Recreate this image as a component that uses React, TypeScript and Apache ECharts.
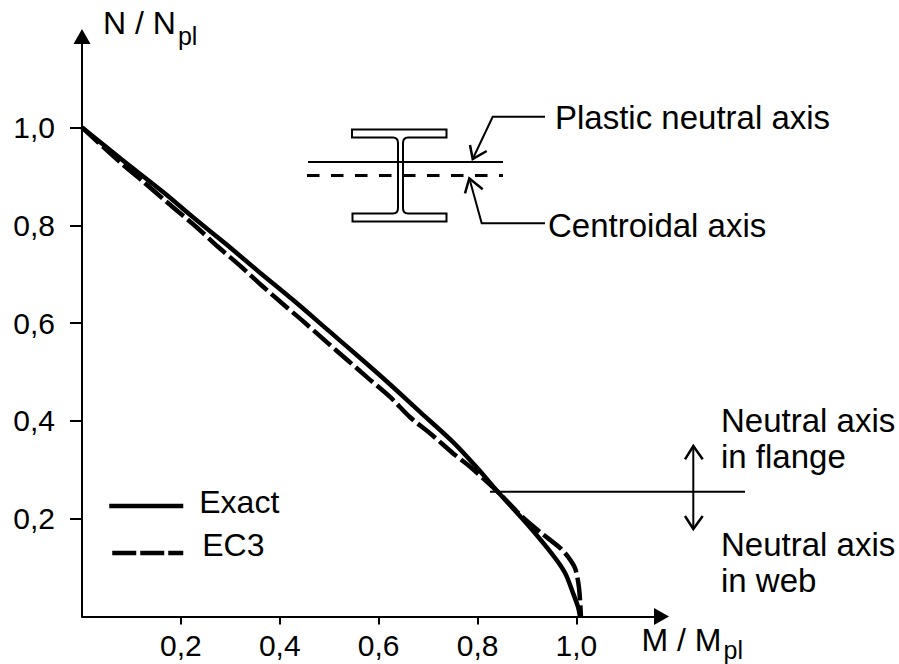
import React, { useEffect, useRef } from "react";
import * as echarts from "echarts";

const tickValues = [0.2, 0.4, 0.6, 0.8, 1.0];
const exactM = [0, 0.081, 0.164, 0.224, 0.293, 0.36, 0.427, 0.497, 0.562, 0.617, 0.684, 0.75, 0.799, 0.841, 0.902, 0.952, 0.977, 0.993, 1.003, 1.007];
const exactN = [1, 0.934, 0.868, 0.817, 0.76, 0.703, 0.647, 0.586, 0.529, 0.48, 0.418, 0.357, 0.304, 0.255, 0.187, 0.126, 0.089, 0.048, 0.02, 0.001];
const ec3M = [0, 0.077, 0.123, 0.172, 0.233, 0.275, 0.32, 0.36, 0.404, 0.447, 0.495, 0.536, 0.578, 0.623, 0.663, 0.708, 0.75, 0.785, 0.841, 0.886, 0.926, 0.967, 0.983, 0.997, 1.005, 1.009];
const ec3N = [1, 0.929, 0.89, 0.847, 0.795, 0.756, 0.717, 0.68, 0.641, 0.604, 0.561, 0.525, 0.488, 0.449, 0.408, 0.371, 0.334, 0.306, 0.255, 0.208, 0.173, 0.14, 0.122, 0.099, 0.06, 0.001];

const FONT = "'Liberation Sans', Arial, sans-serif";
const INK = "#000";
const zip = (a: number[], b: number[]) => a.map((v, i) => [v, b[i]]);
const fmt = (v: number) => v.toFixed(1).replace(".", ",");

const BEAM =
  "M352,129.5 H446.5 V137.5 H408 Q403,137.5 403,143 V208 Q403,213.5 408,213.5 H446.5 V221.5 H352.5 V213.5 H393 Q398,213.5 398,208 V143 Q398,137.5 393,137.5 H352 Z";

const line = (points: number[][], lineWidth = 2, lineDash?: number[]) => ({
  type: "polyline",
  silent: true,
  shape: { points },
  style: { stroke: INK, lineWidth, fill: "none", lineDash },
});
const label = (text: string, x: number, y: number) => ({
  type: "text",
  silent: true,
  x,
  y,
  style: { text, x: 0, y: 0, fill: INK, font: `33px ${FONT}`, verticalAlign: "middle" },
});

export default function App() {
  const ref = useRef<HTMLDivElement>(null);
  useEffect(() => {
    document.body.style.margin = "0";
    try {
      echarts.graphic.registerShape("ibeam", echarts.graphic.extendPath(BEAM, {}));
    } catch (e) {}
    const chart = echarts.init(ref.current!, null, { renderer: "svg" });
    const axisBase = {
      type: "value",
      min: 0,
      splitLine: { show: false },
      axisLine: {
        show: true,
        onZero: false,
        symbol: ["none", "triangle"],
        symbolSize: [17, 15],
        lineStyle: { color: INK, width: 2 },
      },
      axisTick: { show: true, customValues: tickValues, lineStyle: { color: INK, width: 2 } },
    };
    const t = { fontFamily: FONT, fontSize: 32, color: INK };
    const sub = { fontFamily: FONT, fontSize: 25, color: INK };
    const legendBase = {
      itemHeight: 14,
      padding: 0,
      selectedMode: false,
      itemStyle: { opacity: 0 },
    };
    const legendText = (pad: number[]) => ({
      rich: { a: { fontFamily: FONT, fontSize: 32, color: INK, padding: pad } },
    });
    chart.setOption({
      animation: false,
      backgroundColor: "#fff",
      grid: { left: 82, top: 36.5, width: 579.5, height: 580, outerBoundsMode: "none" },
      legend: [
        {
          ...legendBase,
          data: ["Exact"],
          left: 107,
          top: 486,
          itemWidth: 74,
          lineStyle: { width: 4.5 },
          formatter: "{a|{name}}",
          textStyle: legendText([0, 0, 8, 11]),
        },
        {
          ...legendBase,
          data: ["EC3"],
          left: 110,
          top: 529,
          itemWidth: 71,
          lineStyle: { width: 4.5, type: [24, 4] },
          formatter: "{a|{name}}",
          textStyle: legendText([0, 0, 16, 14]),
        },
      ],
      xAxis: {
        ...axisBase,
        max: 1.172,
        name: "{t|M / M}{sub|pl}",
        nameLocation: "end",
        nameGap: -20,
        nameMoveOverlap: false,
        nameTextStyle: {
          rich: { t, sub: { ...sub, padding: [20, 0, 0, 2] } },
          verticalAlign: "middle",
          align: "left",
          padding: [46, 0, 0, 0],
        },
        axisTick: { ...axisBase.axisTick, length: 8 },
        axisLabel: {
          customValues: tickValues,
          formatter: fmt,
          margin: 14,
          fontFamily: FONT,
          fontSize: 30,
          color: INK,
        },
      },
      yAxis: {
        ...axisBase,
        max: 1.186,
        name: "{t|N / N}{sub|pl}",
        nameLocation: "end",
        nameGap: 14,
        nameMoveOverlap: false,
        nameTextStyle: {
          rich: { t, sub: { ...sub, padding: [26, 0, 0, 2] } },
          align: "left",
          verticalAlign: "middle",
          padding: [0, 0, 0, 21],
        },
        axisTick: { ...axisBase.axisTick, length: 12 },
        axisLabel: {
          customValues: tickValues,
          formatter: fmt,
          margin: 27,
          fontFamily: FONT,
          fontSize: 30,
          color: INK,
        },
      },
      series: [
        {
          name: "Exact",
          type: "line",
          data: zip(exactM, exactN),
          symbol: "none",
          clip: false,
          smooth: 0.3,
          lineStyle: { color: INK, width: 4.5 },
          itemStyle: { color: INK },
        },
        {
          name: "EC3",
          type: "line",
          data: zip(ec3M, ec3N),
          symbol: "none",
          clip: false,
          smooth: 0.3,
          lineStyle: { color: INK, width: 4.5, type: [23, 5] },
          itemStyle: { color: INK },
        },
      ],
      graphic: [
        {
          type: "ibeam",
          silent: true,
          style: { stroke: INK, lineWidth: 2, fill: "none" },
        },
        line([[490, 491.7], [745, 491.7]]),
        line([[308, 162], [503, 162]]),
        line([[307, 175.5], [503, 175.5]], 3, [12.5, 11.5]),
        line([[545, 116.7], [492.7, 116.7], [472.7, 159]]),
        line([[470, 145], [472.7, 159], [486.7, 151]], 2.5),
        line([[545, 223.3], [481.7, 223.3], [469.3, 178.3]]),
        line([[465, 193.3], [469.3, 178.3], [482.7, 189.3]], 2.5),
        line([[693.3, 446], [693.3, 529]]),
        line([[685, 459.3], [693.3, 446], [702.7, 459.3]], 2.5),
        line([[685, 516], [693.3, 529], [702.7, 516]], 2.5),
        label("Plastic neutral axis", 555, 117),
        label("Centroidal axis", 548, 225),
        label("Neutral axis", 721, 420),
        label("in flange", 721, 456),
        label("Neutral axis", 721, 544),
        label("in web", 721, 580),
      ],
    });
    return () => chart.dispose();
  }, []);
  return <div ref={ref} style={{ width: 899, height: 664 }} />;
}
